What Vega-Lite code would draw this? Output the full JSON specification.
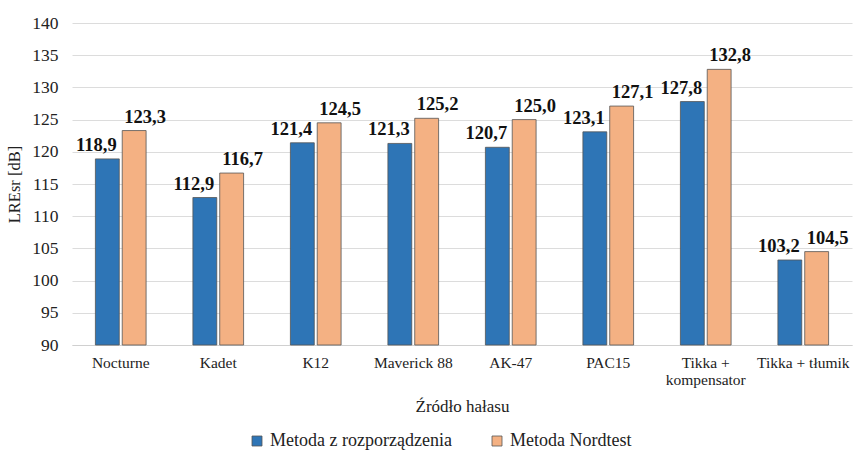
{
  "$schema": "https://vega.github.io/schema/vega-lite/v6.json",
  "autosize": "none",
  "width": 780,
  "height": 322,
  "padding": {"left": 72, "top": 23, "right": 3, "bottom": 106},
  "background": "white",
  "config": {
    "view": {"stroke": null},
    "font": "Liberation Serif",
    "locale": {"number": {"decimal": ",", "thousands": " ", "grouping": [3], "currency": ["", " zł"]}}
  },
  "data": {
    "values": [
      {"zrodlo": "Nocturne", "metoda": "Metoda z rozporządzenia", "val": 118.9},
      {"zrodlo": "Nocturne", "metoda": "Metoda Nordtest", "val": 123.3},
      {"zrodlo": "Kadet", "metoda": "Metoda z rozporządzenia", "val": 112.9},
      {"zrodlo": "Kadet", "metoda": "Metoda Nordtest", "val": 116.7},
      {"zrodlo": "K12", "metoda": "Metoda z rozporządzenia", "val": 121.4},
      {"zrodlo": "K12", "metoda": "Metoda Nordtest", "val": 124.5},
      {"zrodlo": "Maverick 88", "metoda": "Metoda z rozporządzenia", "val": 121.3},
      {"zrodlo": "Maverick 88", "metoda": "Metoda Nordtest", "val": 125.2},
      {"zrodlo": "AK-47", "metoda": "Metoda z rozporządzenia", "val": 120.7},
      {"zrodlo": "AK-47", "metoda": "Metoda Nordtest", "val": 125.0},
      {"zrodlo": "PAC15", "metoda": "Metoda z rozporządzenia", "val": 123.1},
      {"zrodlo": "PAC15", "metoda": "Metoda Nordtest", "val": 127.1},
      {"zrodlo": "Tikka + kompensator", "metoda": "Metoda z rozporządzenia", "val": 127.8},
      {"zrodlo": "Tikka + kompensator", "metoda": "Metoda Nordtest", "val": 132.8},
      {"zrodlo": "Tikka + tłumik", "metoda": "Metoda z rozporządzenia", "val": 103.2},
      {"zrodlo": "Tikka + tłumik", "metoda": "Metoda Nordtest", "val": 104.5}
    ]
  },
  "encoding": {
    "x": {
      "field": "zrodlo", "type": "nominal", "sort": null,
      "scale": {"paddingInner": 0.48, "paddingOuter": 0.24},
      "axis": {
        "title": "Źródło hałasu", "titleFont": "Liberation Serif", "titleFontSize": 17, "titleFontWeight": "normal", "titleColor": "#222", "titlePadding": 10,
        "labelAngle": 0, "labelFont": "Liberation Serif", "labelFontSize": 15.5, "labelColor": "#222", "labelPadding": 10,
        "labelExpr": "datum.label == 'Tikka + kompensator' ? ['Tikka +', 'kompensator'] : datum.label",
        "labelLimit": 200,
        "ticks": false, "domainColor": "#d0d0d0", "domainWidth": 1
      }
    },
    "y": {
      "field": "val", "type": "quantitative",
      "scale": {"domain": [90, 140], "zero": false, "nice": false},
      "axis": {
        "values": [90, 95, 100, 105, 110, 115, 120, 125, 130, 135, 140],
        "title": "LREsr [dB]", "titleFont": "Liberation Serif", "titleFontSize": 16.5, "titleFontWeight": "normal", "titleColor": "#222", "titlePadding": 9,
        "labelFont": "Liberation Serif", "labelFontSize": 17.5, "labelColor": "#222", "labelPadding": 14,
        "ticks": false, "domain": false, "gridColor": "#dcdcdc", "gridWidth": 1
      }
    }
  },
  "layer": [
    {
      "mark": {"type": "bar", "stroke": "#555555", "strokeWidth": 0.8},
      "encoding": {
        "y2": {"datum": 90},
        "xOffset": {"field": "metoda", "type": "nominal", "sort": ["Metoda z rozporządzenia", "Metoda Nordtest"], "scale": {"paddingInner": 0.11}},
        "color": {
          "field": "metoda", "type": "nominal",
          "sort": ["Metoda z rozporządzenia", "Metoda Nordtest"],
          "scale": {"domain": ["Metoda z rozporządzenia", "Metoda Nordtest"], "range": ["#2E75B6", "#F4B183"]},
          "legend": {
            "title": null, "orient": "none", "legendX": 176, "legendY": 409, "direction": "horizontal",
            "symbolType": "square", "symbolSize": 100, "symbolStrokeColor": "#555", "symbolStrokeWidth": 0.8,
            "labelFont": "Liberation Serif", "labelFontSize": 18, "labelColor": "#222", "labelOffset": 4,
            "columnPadding": 36, "labelLimit": 300
          }
        }
      }
    },
    {
      "mark": {"type": "text", "baseline": "alphabetic", "dy": -8, "font": "Liberation Serif", "fontWeight": "bold", "fontSize": 18.5, "color": "#111"},
      "encoding": {
        "xOffset": {"field": "metoda", "type": "nominal", "sort": ["Metoda z rozporządzenia", "Metoda Nordtest"], "scale": {"type": "point", "padding": 0.02}},
        "text": {"field": "val", "type": "quantitative", "format": ".1f"}
      }
    }
  ],
  "resolve": {"scale": {"xOffset": "independent"}}
}
